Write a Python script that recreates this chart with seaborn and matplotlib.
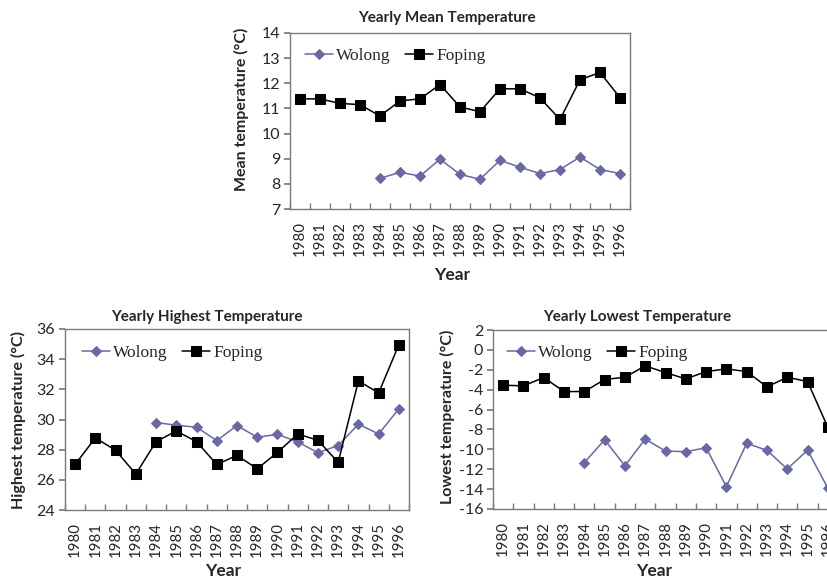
import numpy as np
import pandas as pd
import matplotlib
matplotlib.use("Agg")
import matplotlib.pyplot as plt
from matplotlib.ticker import FixedLocator
import seaborn as sns

years = list(range(1980, 1997))
wolong_years = list(range(1984, 1997))

mean_foping = [11.38, 11.38, 11.20, 11.15, 10.70, 11.30, 11.38, 11.95, 11.06, 10.87,
               11.78, 11.78, 11.42, 10.56, 12.14, 12.43, 11.43]
mean_wolong = [8.22, 8.46, 8.31, 8.98, 8.38, 8.18, 8.94, 8.66, 8.41, 8.57, 9.07, 8.57, 8.41]

high_foping = [27.02, 28.78, 27.96, 26.38, 28.53, 29.24, 28.53, 27.02, 27.62, 26.73,
               27.82, 29.04, 28.62, 27.16, 32.56, 31.76, 34.96]
high_wolong = [29.80, 29.62, 29.49, 28.60, 29.60, 28.82, 29.02, 28.51, 27.80, 28.27,
               29.69, 29.04, 30.71]

low_foping = [-3.55, -3.62, -2.78, -4.19, -4.19, -2.98, -2.75, -1.61, -2.28, -2.92,
              -2.18, -1.91, -2.18, -3.72, -2.75, -3.18, -7.80]
low_wolong = [-11.34, -9.04, -11.65, -8.97, -10.17, -10.24, -9.84, -13.75, -9.40,
              -10.10, -11.98, -10.07, -13.92]

titles = ["Yearly Mean Temperature", "Yearly Highest Temperature", "Yearly Lowest Temperature"]
ylabels = ["Mean temperature (°C)", "Highest temperature (°C)", "Lowest temperature (°C)"]
series = ["Wolong", "Foping"]

sns.set_theme(style="white")
plt.rcParams['font.family'] = ['Lato', 'DejaVu Sans']

W, H = 827, 577
fig = plt.figure(figsize=(W / 100, H / 100), dpi=100)

def fx(px):
    return px / W

def fy(py):
    return 1 - py / H

# axes boxes in pixels: left, right, top, bottom
boxes = [(290, 630, 33, 209), (65, 409, 329, 510), (493, 838, 330, 509)]
ylims = [(7, 14, 1), (24, 36, 2), (-16, 2, 2)]
datasets = [(mean_wolong, mean_foping), (high_wolong, high_foping), (low_wolong, low_foping)]
title_pos = [(447, 18), (207, 317), (637, 317)]
ylabel_pos = [(241, 109), (18, 420), (447, 417)]
year_pos = [(452, 275), (223, 571), (654, 571)]
legend_pos = [(305, 56), (82, 353), (507, 353)]

wolong_color = "#6868A4"
spine_color = "#7a7a7a"

for i in range(3):
    l, r, t, b = boxes[i]
    ax = fig.add_axes([fx(l), fy(b), fx(r) - fx(l), fy(t) - fy(b)])
    wol, fop = datasets[i]
    dfw = pd.DataFrame({"pos": [years.index(y) for y in wolong_years], "val": wol})
    dff = pd.DataFrame({"pos": list(range(len(years))), "val": fop})
    sns.lineplot(data=dfw, x="pos", y="val", ax=ax, color=wolong_color, marker="D",
                 markersize=5.5, markeredgecolor=wolong_color, linewidth=1.1,
                 label=series[0], clip_on=False)
    sns.lineplot(data=dff, x="pos", y="val", ax=ax, color="black", marker="s",
                 markersize=7, markeredgecolor="black", linewidth=1.1,
                 label=series[1], clip_on=False)
    lo, hi, step = ylims[i]
    ax.set_ylim(lo, hi)
    ax.set_yticks(np.arange(lo, hi + 0.001, step))
    ax.set_yticklabels([str(int(v)) for v in np.arange(lo, hi + 0.001, step)], fontsize=11.5)
    ax.set_xlim(-0.5, len(years) - 0.5)
    ax.set_xticks(range(len(years)))
    ax.set_xticklabels([str(y) for y in years], rotation=90, fontsize=10.8)
    ax.xaxis.set_minor_locator(FixedLocator(np.arange(-0.5, len(years), 1.0)))
    ax.tick_params(axis="x", which="major", length=0, pad=8.5)
    ax.tick_params(axis="x", which="minor", direction="in", length=4, color=spine_color, bottom=True)
    ax.tick_params(axis="y", which="major", direction="out", length=4, color=spine_color,
                   left=True, pad=3)
    for s in ax.spines.values():
        s.set_color(spine_color)
        s.set_linewidth(1.0)
    ax.set_xlabel("")
    ax.set_ylabel("")
    leg = ax.legend(loc="center left", bbox_to_anchor=(fx(legend_pos[i][0]), fy(legend_pos[i][1])),
                    bbox_transform=fig.transFigure, ncol=2, frameon=False,
                    prop={"family": "Liberation Serif", "size": 12.5},
                    handlelength=1.6, handletextpad=0.2, columnspacing=0.8, borderpad=0,
                    borderaxespad=0)
    fig.text(fx(title_pos[i][0]), fy(title_pos[i][1]), titles[i], ha="center", va="center",
             fontsize=11, fontweight="bold")
    fig.text(fx(ylabel_pos[i][0]), fy(ylabel_pos[i][1]), ylabels[i], ha="center", va="center",
             rotation=90, fontsize=11.5, fontweight="bold")
    fig.text(fx(year_pos[i][0]), fy(year_pos[i][1]), "Year", ha="center", va="center",
             fontsize=12.5, fontweight="bold")

fig.savefig("out.png", dpi=100)
